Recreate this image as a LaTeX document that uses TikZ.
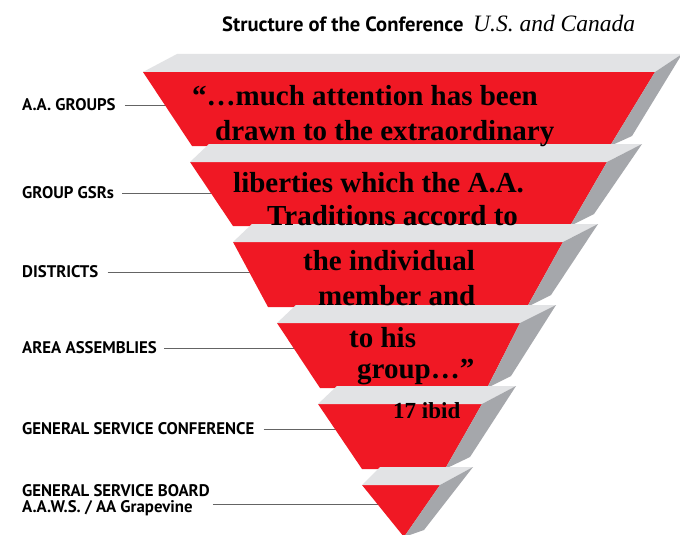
\documentclass[tikz,border=0pt]{standalone}
\usepackage{fontspec}
\setmainfont{Liberation Serif}
\newfontfamily\labelfont{PT Sans}

\definecolor{pyrred}{RGB}{240,24,36}
\definecolor{pyrtop}{RGB}{226,227,229}
\definecolor{pyrside}{RGB}{165,167,171}
\definecolor{leadgray}{RGB}{100,100,100}

\begin{document}
\begin{tikzpicture}[x=1pt,y=-1pt,
  redface/.style={fill=pyrred},
  topface/.style={fill=pyrtop},
  sideface/.style={fill=pyrside},
  level/.style={font=\labelfont\bfseries\fontsize{16.8}{16}\selectfont, anchor=west, inner sep=0pt, align=left},
  quote/.style={font=\bfseries\fontsize{29}{35}\selectfont, anchor=base west, inner sep=0pt},
  leader/.style={draw=leadgray, line width=0.8pt}]

  \clip (0,0) rectangle (680,535);
  \fill[white] (0,0) rectangle (680,535);

  % Title
  \node[anchor=base west, inner sep=0pt, font=\labelfont\bfseries\fontsize{20.6}{22}\selectfont] (title) at (222,32) {Structure of the Conference};
  \node[anchor=base west, inner sep=0pt, font=\itshape\fontsize{23.5}{26}\selectfont] (place) at (473,32) {U.S. and Canada};

  % Levels
  \node[level] (groups) at (22,105) {A.A. GROUPS};
  \node[level] (gsrs) at (22,193) {GROUP GSRs};
  \node[level] (districts) at (22,272) {DISTRICTS};
  \node[level] (areas) at (22,348) {AREA ASSEMBLIES};
  \node[level] (conference) at (22,429) {GENERAL SERVICE CONFERENCE};
  \node[level] (board) at (22,500) {GENERAL SERVICE BOARD\\A.A.W.S. / AA Grapevine};

  % Points on the pyramid
  \coordinate (e1) at (170,105);
  \coordinate (e2) at (216,193);
  \coordinate (e3) at (254,272);
  \coordinate (e4) at (299,348);
  \coordinate (e5) at (340,429);
  \coordinate (e6) at (382,504);

  % Leader lines
  \draw[leader] ([xshift=9pt]groups.east) -- (e1);
  \draw[leader] ([xshift=8pt]gsrs.east) -- (e2);
  \draw[leader] ([xshift=9pt]districts.east) -- (e3);
  \draw[leader] ([xshift=7pt]areas.east) -- (e4);
  \draw[leader] ([xshift=9pt]conference.east) -- (e5);
  \draw[leader] ([xshift=3pt]board.east |- e6) -- (e6);

  % Band 1
  \fill[redface] (143,72) -- (655,72) -- (610,146) -- (192,146) -- cycle;
  \fill[topface] (143,72) -- (177,54) -- (682,54) -- (655,72) -- cycle;
  \fill[sideface] (655,72) -- (682,54) -- (632,136) -- (610,146) -- cycle;

  % Band 2
  \fill[redface] (190,162) -- (607,162) -- (570,226) -- (233,226) -- cycle;
  \fill[topface] (190,162) -- (209,144) -- (642,144) -- (607,162) -- cycle;
  \fill[sideface] (607,162) -- (642,144) -- (594,214) -- (570,226) -- cycle;

  % Band 3
  \fill[redface] (233,242) -- (563,242) -- (527,307) -- (268,307) -- cycle;
  \fill[topface] (233,242) -- (252,224) -- (598,224) -- (563,242) -- cycle;
  \fill[sideface] (563,242) -- (598,224) -- (551,295) -- (527,307) -- cycle;

  % Band 4
  \fill[redface] (277,323) -- (520,323) -- (487,388) -- (320,388) -- cycle;
  \fill[topface] (277,323) -- (296,305) -- (556,305) -- (520,323) -- cycle;
  \fill[sideface] (520,323) -- (556,305) -- (511,376) -- (487,388) -- cycle;

  % Band 5
  \fill[redface] (318,404) -- (482,404) -- (445,469) -- (362,469) -- cycle;
  \fill[topface] (318,404) -- (337,386) -- (516,386) -- (482,404) -- cycle;
  \fill[sideface] (482,404) -- (516,386) -- (470,457) -- (445,469) -- cycle;

  % Band 6
  \fill[redface] (362,485) -- (440,485) -- (404,537) -- cycle;
  \fill[topface] (362,485) -- (380,467) -- (473,467) -- (440,485) -- cycle;
  \fill[sideface] (440,485) -- (473,467) -- (424,530) -- (404,537) -- cycle;

  % Quote
  \node[quote] (q1) at (192,105) {“…much attention has been};
  \node[quote] (q2) at (215,140) {drawn to the extraordinary};
  \node[quote] (q3) at (233,192) {liberties which the A.A.};
  \node[quote] (q4) at (267,225) {Traditions accord to};
  \node[quote] (q5) at (303,270) {the individual};
  \node[quote] (q6) at (318,305) {member and};
  \node[quote] (q7) at (349,347) {to his};
  \node[quote] (q8) at (357,378) {group…”};
  \node[quote, font=\bfseries\fontsize{23}{26}\selectfont] (q9) at (393,418) {17 ibid};
\end{tikzpicture}
\end{document}
